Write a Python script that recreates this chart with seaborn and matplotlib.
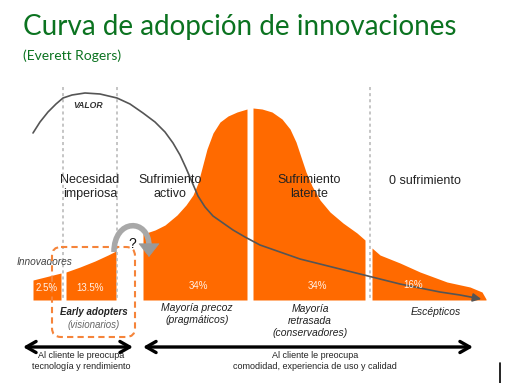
import numpy as np
import matplotlib
matplotlib.use('Agg')
import matplotlib.pyplot as plt
import seaborn as sns
from matplotlib.patches import FancyBboxPatch, PathPatch
from matplotlib.path import Path

# Curve segments (x position, top of the orange area)
innov_x = [33, 61]
innov_top = [280, 273]
early_x = [66, 80, 95, 108, 116]
early_top = [272, 267, 261, 255, 251]
majority_x = [143, 155, 165, 177, 186, 193, 198, 202, 207, 213, 220, 228, 237, 247]
majority_top = [234, 230, 225, 215, 205, 195, 183, 168, 149, 133, 122, 116, 112, 109]
late_x = [253, 262, 272, 282, 290, 296, 301, 306, 312, 320, 330, 343, 357, 365]
late_top = [108, 109, 112, 119, 129, 142, 157, 172, 186, 200, 212, 223, 233, 240]
lag_x = [372, 380, 400, 420, 447, 470, 482, 486]
lag_top = [248, 255, 263, 272, 282, 287, 292, 299]

# VALOR curve
valor_x = [33, 40, 48, 56, 63, 72, 85, 100, 117, 130, 143, 155, 165, 173, 180, 186, 192, 198,
           205, 213, 223, 233, 245, 260, 280, 300, 320, 340, 360, 380, 400, 420, 440, 460, 476]
valor_y = [133, 122, 112, 104, 98, 95, 93, 94, 98, 104, 113, 122, 132, 143, 155, 168, 182, 196,
           207, 216, 223, 230, 237, 245, 252, 259, 264, 269, 274, 279, 284, 288, 292, 295, 298]

shares = ['2.5%', '13.5%', '34%', '34%', '16%']
stages = ['Necesidad\nimperiosa', 'Sufrimiento\nactivo', 'Sufrimiento\nlatente', '0 sufrimiento']
boundaries = [63, 117, 249.5, 370]

orange = '#ff6a00'
baseline = 300

sns.set_theme(style='white')
plt.rcParams['font.family'] = ['Liberation Sans', 'DejaVu Sans']

fig = plt.figure(figsize=(5.12, 3.83), dpi=100)
ax = fig.add_axes([0, 0, 1, 1])

# orange adoption blocks
for xs, tops in [(innov_x, innov_top), (early_x, early_top), (majority_x, majority_top),
                 (late_x, late_top), (lag_x, lag_top)]:
    ax.fill_between(xs, tops, baseline, color=orange, lw=0, zorder=2)

# dashed stage separators
for b in boundaries:
    col = 'white' if b == 249.5 else '#b5b5b5'
    ax.plot([b, b], [87, baseline], ls=(0, (2, 2)), color=col, lw=1.1, zorder=3)

# VALOR curve
sns.lineplot(x=valor_x, y=valor_y, sort=False, ax=ax, color='#555555', lw=1.2, zorder=4)
ax.annotate('', xy=(484, 299.5), xytext=(470, 297),
            arrowprops=dict(arrowstyle='-|>,head_length=0.5,head_width=0.25', color='#555555',
                            lw=1.2, mutation_scale=10), zorder=4)
ax.text(88, 106, 'VALOR', fontsize=6.2, fontweight='bold', style='italic', color='#333333',
        ha='center', va='center')

# titles
ax.text(23, 35, 'Curva de adopción de innovaciones', family=['Lato', 'DejaVu Sans'],
        fontsize=20, color='#0b7320', ha='left', va='baseline')
ax.text(23, 60, '(Everett Rogers)', family=['Lato', 'DejaVu Sans'],
        fontsize=10, color='#0b7320', ha='left', va='baseline')

# stage labels
for sx, lab in zip([90, 170, 309, 425], stages):
    ax.text(sx, 187 if '\n' in lab else 181, lab, fontsize=9, color='#222222', ha='center',
            va='center', linespacing=1.25, zorder=6)

# share labels
for sx, sy, lab in zip([47, 90, 198, 317, 413], [288, 288, 286, 286, 285], shares):
    ax.text(sx, sy, lab, fontsize=7, color='white', alpha=0.9, ha='center', va='center', zorder=6)

ax.text(45, 262, 'Innovadores', fontsize=7.3, style='italic', color='#444444', ha='center', va='center')
ax.text(94, 312, 'Early adopters', fontsize=7, style='italic', fontweight='bold', color='#222222',
        ha='center', va='center')
ax.text(94, 325, '(visionarios)', fontsize=7, style='italic', color='#666666', ha='center', va='center')
ax.text(197, 314, 'Mayoría precoz\n(pragmáticos)', fontsize=7.5, style='italic', color='#222222',
        ha='center', va='center', linespacing=1.2)
ax.text(310, 321, 'Mayoría\nretrasada\n(conservadores)', fontsize=7.5, style='italic',
        color='#222222', ha='center', va='center', linespacing=1.2)
ax.text(436, 312, 'Escépticos', fontsize=7.5, style='italic', color='#222222', ha='center', va='center')

# early adopters dashed box
ax.add_patch(FancyBboxPatch((52, 247), 83, 90, boxstyle='round,pad=0,rounding_size=9',
                            fill=False, ec='#f5843a', lw=1.5, ls=(0, (3, 2)), zorder=5))

# chasm arrow: grey arc plus a downward head
chasm = Path([(114, 252), (114, 218), (149, 218), (149, 246)],
             [Path.MOVETO, Path.CURVE4, Path.CURVE4, Path.CURVE4])
ax.add_patch(PathPatch(chasm, fill=False, ec='#a8a8a8', lw=4, capstyle='butt', zorder=6))
ax.annotate('', xy=(149, 257), xytext=(149, 244),
            arrowprops=dict(arrowstyle='-|>,head_length=0.7,head_width=0.55', color='#999999',
                            lw=0.5, mutation_scale=13, shrinkA=0, shrinkB=0), zorder=6)
ax.text(132, 244, '?', fontsize=10, color='#111111', ha='center', va='center', zorder=7)

# bottom arrows
for x0, x1 in [(23, 133), (143, 473)]:
    ax.annotate('', xy=(x0, 347), xytext=(x1, 347),
                arrowprops=dict(arrowstyle='<->,head_length=0.7,head_width=0.4', color='black',
                                lw=2.4, mutation_scale=10, shrinkA=0, shrinkB=0))
ax.text(81, 361, 'Al cliente le preocupa\ntecnología y rendimiento', fontsize=6.5, color='#222222',
        ha='center', va='center', linespacing=1.25)
ax.text(315, 361, 'Al cliente le preocupa\ncomodidad, experiencia de uso y calidad', fontsize=6.5,
        color='#222222', ha='center', va='center', linespacing=1.25)

ax.plot([500, 500], [363, 383], color='black', lw=1.2)

ax.set_xlim(0, 512)
ax.set_ylim(383, 0)
ax.axis('off')
fig.savefig('out.png', dpi=100, facecolor='white')
